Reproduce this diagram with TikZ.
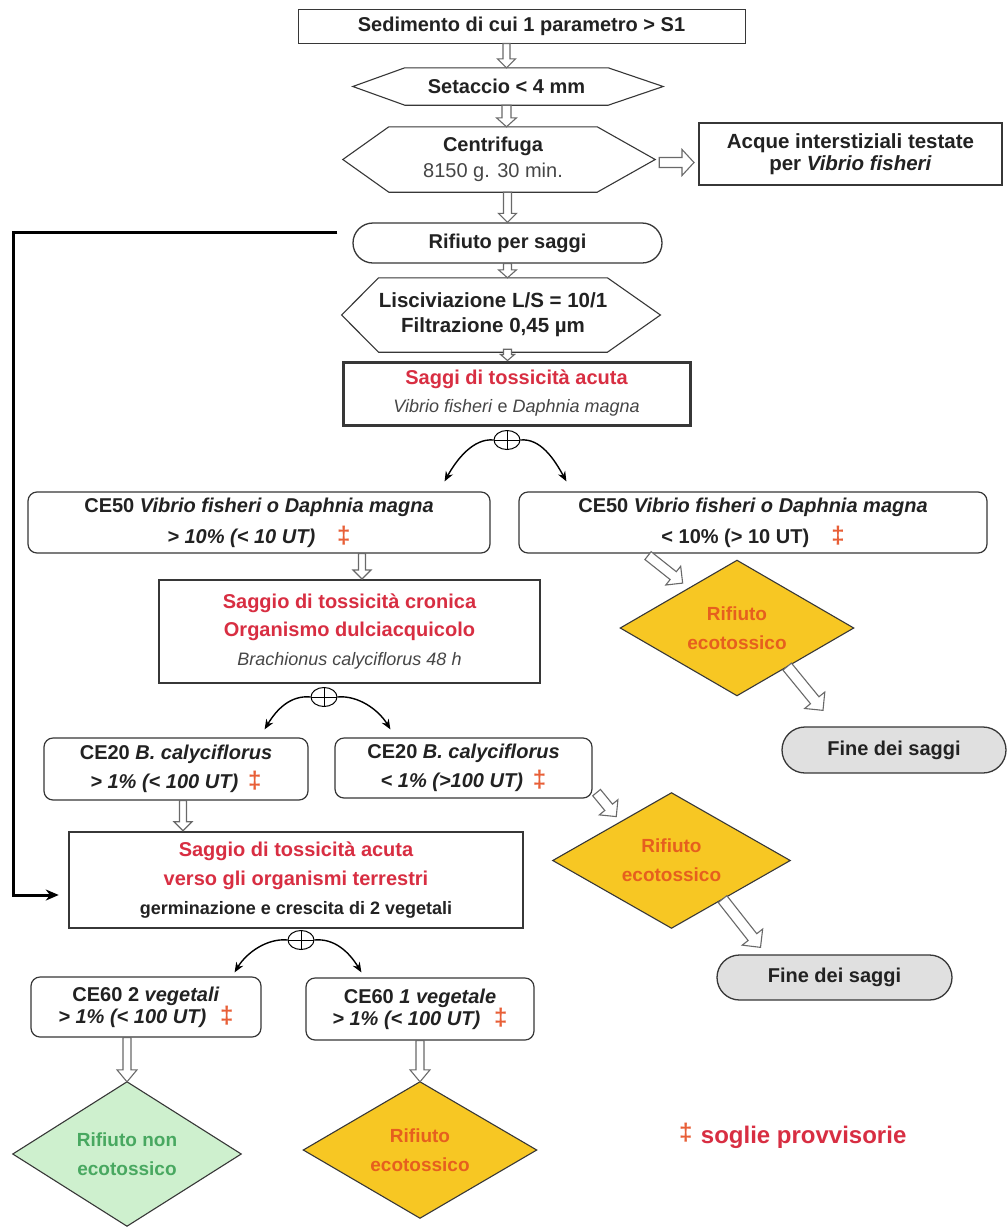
\documentclass[tikz,border=0pt]{standalone}
\usepackage{fontspec}
\setmainfont{Liberation Sans}
\usetikzlibrary{calc,shapes.misc,shapes.geometric,arrows.meta,backgrounds}

\definecolor{txtdark}{RGB}{34,34,34}
\definecolor{txtsoft}{RGB}{70,70,70}
\definecolor{titlered}{RGB}{216,46,66}
\definecolor{markred}{RGB}{232,95,55}
\definecolor{alertorange}{RGB}{230,95,30}
\definecolor{toxyellow}{RGB}{247,199,35}
\definecolor{safegreen}{RGB}{206,240,206}
\definecolor{safetext}{RGB}{72,168,96}
\definecolor{endgray}{RGB}{224,224,224}
\definecolor{edgegray}{RGB}{55,55,55}
\definecolor{arrowgray}{RGB}{105,105,105}

% provisional-threshold mark
\newcommand\thr{{\fontsize{24}{20}\selectfont\bfseries\textcolor{markred}{‡}}}

% hexagonal frame around a text node: #1 node, #2 left tip, #3 right tip
\newcommand\hexframe[3]{%
  \draw[hexline] ($(#1.west)+(-#2,0)$) -- (#1.north west) -- (#1.north east)
    -- ($(#1.east)+(#3,0)$) -- (#1.south east) -- (#1.south west) -- cycle;}

% hollow block arrow: #1 tail, #2 tip, #3 shaft half width, #4 head half width, #5 head length
\newcommand\hollowarrow[5]{%
  \draw[hollowarr] let \p1=#1, \p2=#2,
      \n1={atan2(\y2-\y1,\x2-\x1)},
      \n2={veclen(\x2-\x1,\y2-\y1)-#5} in
    ($(\p1)+(\n1+90:#3pt)$)
    -- ($(\p1)+(\n1:\n2)+(\n1+90:#3pt)$)
    -- ($(\p1)+(\n1:\n2)+(\n1+90:#4pt)$)
    -- (\p2)
    -- ($(\p1)+(\n1:\n2)+(\n1-90:#4pt)$)
    -- ($(\p1)+(\n1:\n2)+(\n1-90:#3pt)$)
    -- ($(\p1)+(\n1-90:#3pt)$) -- cycle;}

\tikzset{
  every node/.style={inner sep=0pt, align=center, text=txtdark},
  bigtext/.style={font=\fontsize{20}{26}\selectfont\bfseries},
  boxtext/.style={font=\fontsize{20}{29}\selectfont\bfseries},
  framebox/.style={rectangle, draw=edgegray},
  roundbox/.style={rectangle, draw=edgegray, line width=1.2, rounded corners=9pt, boxtext},
  hexline/.style={draw=edgegray, line width=1.1, line join=miter},
  hollowarr/.style={draw=arrowgray, fill=white, line width=1.1, line join=miter},
  endnode/.style={rounded rectangle, draw=edgegray, line width=1.3, fill=endgray, bigtext},
  alerttext/.style={font=\fontsize{19}{29}\selectfont\bfseries, text=alertorange},
  safetxt/.style={font=\fontsize{19}{29}\selectfont\bfseries, text=safetext},
  diaframe/.style={draw=edgegray, line width=1.1, line join=miter},
  orsym/.style={ellipse, draw=black, line width=1, minimum width=26, minimum height=19,
    fill=white, path picture={\draw[line width=0.9]
      (path picture bounding box.north) -- (path picture bounding box.south)
      (path picture bounding box.west) -- (path picture bounding box.east);}},
  orarrow/.style={draw=black, line width=1.4, -{Stealth[length=10pt,width=8pt]}},
  loopline/.style={draw=black, line width=3, line join=miter, -{Stealth[length=13pt,width=11pt]}}
}

\begin{document}
\begin{tikzpicture}[x=1pt,y=-1pt]
\useasboundingbox (0,0) rectangle (1008,1227);

% --- sample preparation ---
\node[framebox, line width=1, bigtext, minimum width=447, minimum height=34] (sed)
  at (521.5,26) {Sedimento di cui 1 parametro > S1};

\node[bigtext, minimum width=203, minimum height=37] (set) at (506.5,86.5) {Setaccio < 4 mm};
\hexframe{set}{52}{55}

\node[bigtext, minimum width=208, minimum height=65] (cen) at (493,159.5)
  {Centrifuga\\{\mdseries\color{txtsoft}8150 g. 30 min.}};
\hexframe{cen}{46}{58}

\node[framebox, line width=2, font=\fontsize{20.5}{22}\selectfont\bfseries,
  minimum width=303, minimum height=62] (acq) at (850.5,154)
  {Acque interstiziali testate\\per \textit{Vibrio fisheri}};

\node[rounded rectangle, draw=edgegray, line width=1.3, bigtext,
  minimum width=309, minimum height=40] (rif) at (507.5,243) {Rifiuto per saggi};

\node[font=\fontsize{20.5}{25}\selectfont\bfseries, minimum width=208, minimum height=74] (lis)
  at (493,315) {Lisciviazione L/S = 10/1\\Filtrazione 0,45 µm};
\hexframe{lis}{37}{53}

% --- acute toxicity ---
\node[framebox, line width=3, font=\fontsize{20}{28}\selectfont\bfseries,
  minimum width=347, minimum height=63] (acu) at (516.5,393.5)
  {\textcolor{titlered}{Saggi di tossicità acuta}\\
   {\fontsize{18}{28}\selectfont\mdseries\color{txtsoft}\textit{Vibrio fisheri} e \textit{Daphnia magna}}};

\node[orsym] (or1) at (507,440) {};

\node[roundbox, font=\fontsize{20}{31}\selectfont\bfseries, minimum width=462, minimum height=61]
  (ce50a) at (259,522.5)
  {CE50 \textit{Vibrio fisheri o Daphnia magna}\\\textit{> 10\% (< 10 UT)}\hspace{1.1em}\thr};
\node[roundbox, font=\fontsize{20}{31}\selectfont\bfseries, minimum width=468, minimum height=61]
  (ce50b) at (753,522.5)
  {CE50 \textit{Vibrio fisheri o Daphnia magna}\\< 10\% (> 10 UT)\hspace{1.1em}\thr};

\node[alerttext, minimum width=233, minimum height=135] (d1) at (737,628) {Rifiuto\\ecotossico};
\node[endnode, minimum width=224, minimum height=46] (fin1) at (894,750) {Fine dei saggi};

% --- chronic toxicity ---
\node[framebox, line width=2, font=\fontsize{20}{28.5}\selectfont\bfseries,
  minimum width=381, minimum height=103] (cro) at (349.5,631.5)
  {\textcolor{titlered}{Saggio di tossicità cronica}\\
   \textcolor{titlered}{Organismo dulciacquicolo}\\
   {\fontsize{18}{28}\selectfont\mdseries\itshape\color{txtsoft}Brachionus calyciflorus 48 h}};

\node[orsym] (or2) at (324,697) {};

\node[roundbox, minimum width=264, minimum height=62] (ce20a) at (176,769)
  {CE20 \textit{B. calyciflorus}\\\textit{> 1\% (< 100 UT)}\hspace{0.5em}\thr};
\node[roundbox, minimum width=257, minimum height=60] (ce20b) at (463.5,768)
  {CE20 \textit{B. calyciflorus}\\\textit{< 1\% (>100 UT)}\hspace{0.5em}\thr};

\node[alerttext, minimum width=237, minimum height=135] (d2) at (671.5,860.5) {Rifiuto\\ecotossico};
\node[endnode, minimum width=235, minimum height=45] (fin2) at (834.5,977.5) {Fine dei saggi};

% --- terrestrial organisms ---
\node[framebox, line width=2.5, font=\fontsize{20}{29}\selectfont\bfseries,
  minimum width=454, minimum height=96] (ter) at (296,880)
  {\textcolor{titlered}{Saggio di tossicità acuta}\\
   \textcolor{titlered}{verso gli organismi terrestri}\\
   {\fontsize{18}{29}\selectfont germinazione e crescita di 2 vegetali}};

\node[orsym] (or3) at (301,940) {};

\node[roundbox, font=\fontsize{20}{22}\selectfont\bfseries, minimum width=230, minimum height=60]
  (ce60a) at (146,1007) {CE60 2 \textit{vegetali}\\\textit{> 1\% (< 100 UT)}\hspace{0.7em}\thr};
\node[roundbox, font=\fontsize{20}{22}\selectfont\bfseries, minimum width=228, minimum height=62]
  (ce60b) at (420,1009) {CE60 \textit{1 vegetale}\\\textit{> 1\% (< 100 UT)}\hspace{0.7em}\thr};

\node[safetxt, minimum width=228, minimum height=144] (d3) at (127,1154) {Rifiuto non\\ecotossico};
\node[alerttext, minimum width=233, minimum height=136] (d4) at (420,1150) {Rifiuto\\ecotossico};

\node[font=\fontsize{24}{28}\selectfont\bfseries, text=titlered, anchor=west] (legend) at (679,1136)
  {\raisebox{3pt}{\fontsize{24}{24}\selectfont\color{markred}‡}\hspace{0.35em}soglie provvisorie};

% --- hollow flow arrows ---
\hollowarrow{(sed.south -| set.north)}{(set.north)}{3.5}{9}{9}
\hollowarrow{(set.south)}{(set.south |- cen.north)}{4.5}{10}{9}
\hollowarrow{($(cen.east)+(62,3)$)}{($(acq.west)+(-4,8.5)$)}{5}{13}{12}
\hollowarrow{(rif.north |- cen.south)}{(rif.north)}{4}{9}{9}
\hollowarrow{(rif.south)}{(rif.south |- lis.north)}{4}{9}{8}
\hollowarrow{($(rif.south |- lis.south)+(0,-3)$)}{(rif.south |- acu.north)}{4}{7}{6}

\coordinate (a1) at ($(ce50a.south)+(103,0)$);
\hollowarrow{(a1)}{(a1 |- cro.north)}{3.5}{9}{9}

\coordinate (t1) at ($(d1.west)!0.56!(d1.north)$);
\hollowarrow{($(ce50b.south)+(-105,2)$)}{($(t1)+(-3,-7)$)}{5}{12}{12}
\hollowarrow{($(d1.south)!0.43!(d1.east)$)}{($(fin1.north)+(-71,-16)$)}{5.5}{13}{13}

\coordinate (a2) at ($(ce20a.south)+(7,0)$);
\hollowarrow{(a2)}{(a2 |- ter.north)}{3.5}{9}{9}

\coordinate (t2) at ($(d2.west)!0.56!(d2.north)$);
\hollowarrow{($(ce20b.south east)+(4,-6)$)}{($(t2)+(-3,-6)$)}{5}{12}{12}
\hollowarrow{($(d2.south)!0.43!(d2.east)$)}{($(fin2.north)+(-74,-7)$)}{5.5}{13}{13}

\hollowarrow{(d3.north |- ce60a.south)}{(d3.north)}{4}{10}{12}
\hollowarrow{(d4.north |- ce60b.south)}{(d4.north)}{4}{10}{12}

% --- alternative outcomes ---
\draw[orarrow] (or1.west) .. controls +(-20,-2) and +(12,-22) .. ($(ce50a.north east)+(-46,-10)$);
\draw[orarrow] (or1.east) .. controls +(20,-2) and +(-12,-22) .. ($(ce50b.north west)+(48,-10)$);
\draw[orarrow] (or2.west) .. controls +(-20,-2) and +(12,-20) .. ($(ce20a.north east)+(-44,-8)$);
\draw[orarrow] (or2.east) .. controls +(20,-2) and +(-12,-20) .. ($(ce20b.north west)+(56,-8)$);
\draw[orarrow] (or3.west) .. controls +(-20,-2) and +(12,-20) .. ($(ce60a.north east)+(-27,-4)$);
\draw[orarrow] (or3.east) .. controls +(20,-2) and +(-12,-20) .. ($(ce60b.north west)+(56,-5)$);

% --- direct route of the waste to the terrestrial test ---
\coordinate (loopstart) at ($(rif.west)+(-15,-11)$);
\coordinate (loopend) at ($(ter.west)+(-9,15)$);
\coordinate (loopx) at (13,0);
\draw[loopline] (loopstart) -| (loopx |- loopend) -- (loopend);

% --- page and decision diamonds ---
\begin{scope}[on background layer]
  \fill[white] (0,0) rectangle (1008,1227);
  \draw[diaframe, fill=toxyellow] (d1.west) -- (d1.north) -- (d1.east) -- (d1.south) -- cycle;
  \draw[diaframe, fill=toxyellow] (d2.west) -- (d2.north) -- (d2.east) -- (d2.south) -- cycle;
  \draw[diaframe, fill=safegreen] (d3.west) -- (d3.north) -- (d3.east) -- (d3.south) -- cycle;
  \draw[diaframe, fill=toxyellow] (d4.west) -- (d4.north) -- (d4.east) -- (d4.south) -- cycle;
\end{scope}
\end{tikzpicture}
\end{document}
